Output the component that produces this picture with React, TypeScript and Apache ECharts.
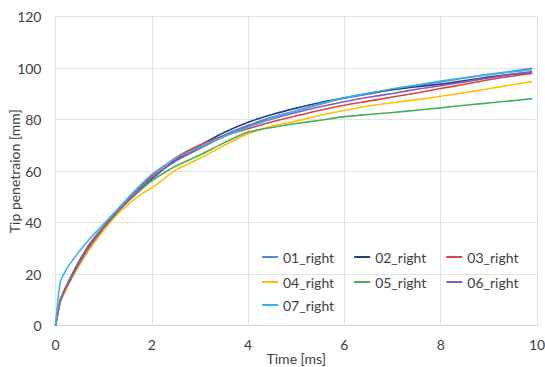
import React, { useEffect, useRef } from "react";
import * as echarts from "echarts";

const timeMs = [0, 0.1, 0.2, 0.3, 0.5, 0.7, 1.0, 1.3, 1.6, 1.8, 2.0, 2.5, 3.0, 3.5, 4.0, 4.5, 5.0, 5.5, 6.0, 6.5, 7.0, 7.5, 8.0, 8.5, 9.0, 9.5, 9.9];

const s01 = [0, 10, 14.5, 18.5, 25.5, 31.5, 38.5, 44.5, 50.2, 54, 57.5, 64, 69, 74, 77.8, 81, 83.5, 86, 88.3, 90, 91.8, 93.3, 94.7, 96.2, 97.6, 98.9, 100];
const s02 = [0, 9.5, 14, 18, 25, 31, 38, 44.5, 50, 53.5, 57, 64.5, 70, 75, 79, 82, 84.5, 86.7, 88.5, 90.2, 91.6, 92.8, 93.8, 95.2, 96.6, 97.7, 98.5];
const s03 = [0, 10, 14.5, 18, 25, 31.5, 38.5, 45, 51, 54.8, 58.3, 65.3, 70.2, 73.8, 76.5, 79.2, 81.5, 83.7, 85.6, 87.2, 88.8, 90.4, 92.1, 93.8, 95.5, 97, 98];
const s04 = [0, 9, 13, 17, 23.5, 29.5, 37, 43.5, 48.5, 51.3, 53.5, 60.5, 65, 70, 74.5, 77.5, 79.5, 81.7, 83.6, 85.3, 86.6, 87.8, 89.1, 90.5, 92, 93.6, 94.8];
const s05 = [0, 10, 14, 18, 24.5, 30.5, 38, 44.5, 50, 53.2, 56.3, 62, 66.3, 71, 75.2, 77, 78.5, 79.8, 81.2, 82, 82.8, 83.7, 84.6, 85.6, 86.5, 87.4, 88.2];
const s06 = [0, 9.5, 14, 17.5, 24.5, 30.5, 38, 44.5, 50, 53.8, 57.5, 64, 68.9, 73.5, 77.5, 80.3, 82.8, 85, 87, 88.7, 90.2, 91.8, 93.2, 94.7, 96.2, 97.6, 98.6];
const s07 = [0, 17, 21, 24, 29, 33.5, 39.5, 45.5, 51.5, 55.3, 58.8, 65, 69.5, 73.5, 77, 80.5, 83.5, 86.2, 88.5, 90.3, 92, 93.5, 95, 96.3, 97.5, 98.6, 99.4];

const seriesNames = ["01_right", "02_right", "03_right", "04_right", "05_right", "06_right", "07_right"];
const seriesData = [s01, s02, s03, s04, s05, s06, s07];
const colors = ["#5B86CF", "#2E3D7C", "#D94444", "#FFC000", "#47AD5A", "#8A5CB5", "#35B5E9"];

const xTicks = [0, 10, 2];
const yTicks = [0, 120, 20];

const FONT = "Lato";

export default function App() {
  const ref = useRef<HTMLDivElement>(null);
  useEffect(() => {
    if (!ref.current) return;
    const chart = echarts.init(ref.current, null, { renderer: "svg" });
    const legendRows = [
      { names: seriesNames.slice(0, 3), top: 250 },
      { names: seriesNames.slice(3, 6), top: 275 },
      { names: seriesNames.slice(6, 7), top: 298 },
    ];
    chart.setOption({
      animation: false,
      color: colors,
      textStyle: { fontFamily: FONT },
      grid: { left: 55.5, right: 8, top: 16.7, bottom: 41.3, containLabel: false, outerBoundsMode: "none" },
      legend: legendRows.map((r) => ({
        data: r.names,
        left: 262,
        top: r.top,
        orient: "horizontal",
        itemWidth: 16,
        itemHeight: 14,
        itemGap: 20,
        icon: "path://M0,6 L16,6 L16,8 L0,8 Z",
        padding: 0,
        textStyle: { fontFamily: FONT, fontSize: 14, color: "#404040" },
      })),
      xAxis: {
        type: "value",
        min: xTicks[0],
        max: xTicks[1],
        interval: xTicks[2],
        name: "Time [ms]",
        nameLocation: "middle",
        nameGap: 26,
        nameMoveOverlap: false,
        nameTextStyle: { fontFamily: FONT, fontSize: 14, color: "#404040" },
        axisLine: { show: true, lineStyle: { color: "#d9d9d9", width: 1 } },
        axisTick: { show: false },
        axisLabel: { margin: 12, fontFamily: FONT, fontSize: 14, color: "#404040" },
        splitLine: { show: true, lineStyle: { color: "#e3e3e3", width: 1 } },
      },
      yAxis: {
        type: "value",
        min: yTicks[0],
        max: yTicks[1],
        interval: yTicks[2],
        name: "Tip penetraion [mm]",
        nameLocation: "middle",
        nameGap: 34,
        nameMoveOverlap: false,
        nameTextStyle: { fontFamily: FONT, fontSize: 14, color: "#404040" },
        axisLine: { show: true, lineStyle: { color: "#e3e3e3", width: 1 } },
        axisTick: { show: false },
        axisLabel: { margin: 14, fontFamily: FONT, fontSize: 14, color: "#404040" },
        splitLine: { show: true, lineStyle: { color: "#e3e3e3", width: 1 } },
      },
      series: seriesNames.map((name, i) => ({
        name,
        type: "line",
        data: timeMs.map((t, j) => [t, seriesData[i][j]]),
        showSymbol: false,
        symbol: "none",
        smooth: 0.25,
        lineStyle: { width: 1.6, color: colors[i] },
        itemStyle: { color: colors[i] },
      })),
    });
    return () => chart.dispose();
  }, []);
  return (
    <div
      ref={ref}
      style={{ position: "fixed", left: 0, top: 0, width: 545, height: 367, background: "#fff" }}
    />
  );
}
